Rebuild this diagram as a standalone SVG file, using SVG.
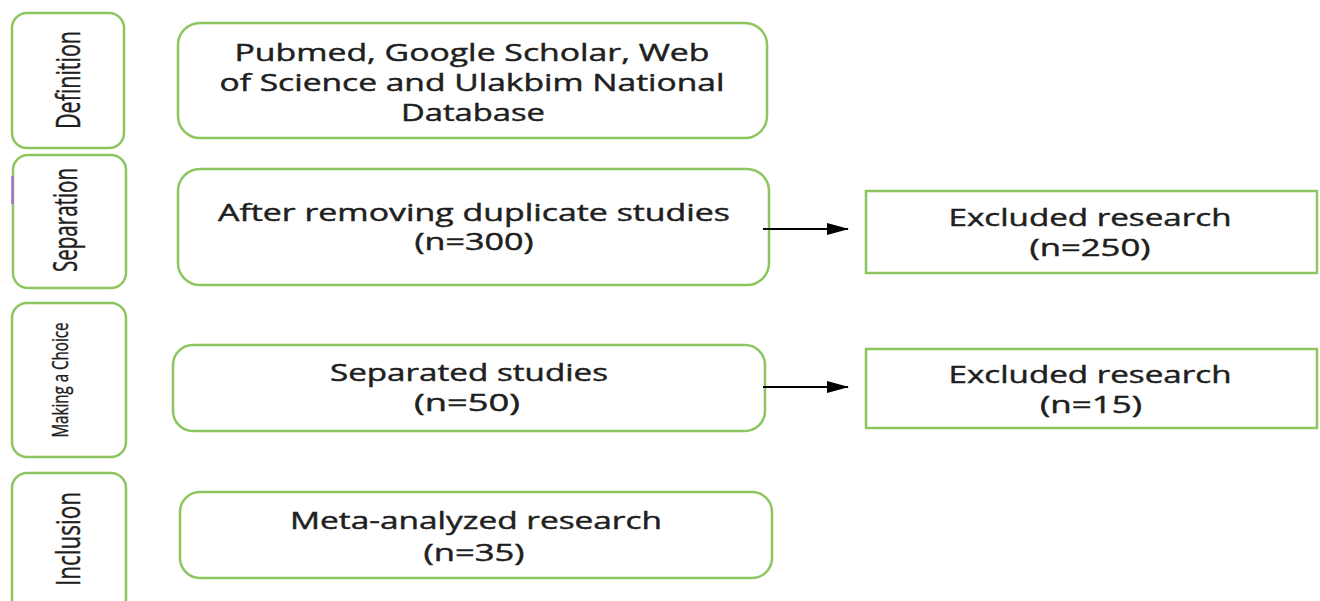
<svg xmlns="http://www.w3.org/2000/svg" width="1320" height="601" viewBox="0 0 1320 601">
<style>
  .box { fill: #ffffff; stroke: #8dc55e; stroke-width: 2.5; }
  .t { font-family: "Open Sans", "Noto Sans", "Liberation Sans", sans-serif; font-size: 23.5px; fill: #1f1f1f; stroke: #1f1f1f; stroke-width: 0.45; text-anchor: middle; }
  .v { font-family: "Open Sans", "Noto Sans", "Liberation Sans", sans-serif; fill: #1f1f1f; stroke: #1f1f1f; stroke-width: 0.3; text-anchor: middle; }
  .conn { stroke: #000000; stroke-width: 2; fill: none; }
</style>
<defs>
  <marker id="arr" viewBox="0 0 22 12" refX="21" refY="6" markerWidth="22" markerHeight="12" markerUnits="userSpaceOnUse" orient="auto">
    <path d="M0,0 L22,6 L0,12 Z" fill="#000000"/>
  </marker>
</defs>
<rect width="1320" height="601" fill="#ffffff"/>

<g id="stage-definition">
  <rect class="box" x="12" y="13" width="112" height="135" rx="15" ry="15"/>
  <text class="v" font-size="22" textLength="98" lengthAdjust="spacingAndGlyphs" transform="translate(80,80) scale(1.45,1) rotate(-90)">Definition</text>
</g>
<g id="stage-separation">
  <rect class="box" x="13" y="155" width="113" height="133" rx="15" ry="15"/>
  <line x1="12.5" y1="176" x2="12.5" y2="204" stroke="#a86bd6" stroke-width="2.5"/>
  <text class="v" font-size="22" textLength="104" lengthAdjust="spacingAndGlyphs" transform="translate(77,220) scale(1.45,1) rotate(-90)">Separation</text>
</g>
<g id="stage-choice">
  <rect class="box" x="12" y="303" width="114" height="154" rx="15" ry="15"/>
  <text class="v" font-size="15.5" textLength="115" lengthAdjust="spacingAndGlyphs" transform="translate(68,380) scale(1.45,1) rotate(-90)">Making a Choice</text>
</g>
<g id="stage-inclusion">
  <rect class="box" x="12" y="473" width="114" height="140" rx="15" ry="15"/>
  <text class="v" font-size="22" textLength="94" lengthAdjust="spacingAndGlyphs" transform="translate(80,539) scale(1.45,1) rotate(-90)">Inclusion</text>
</g>

<g id="databases">
  <rect class="box" x="178" y="23" width="589" height="115" rx="22" ry="22"/>
  <text class="t" x="472" y="61" textLength="475" lengthAdjust="spacingAndGlyphs">Pubmed, Google Scholar, Web</text>
  <text class="t" x="472" y="91" textLength="505" lengthAdjust="spacingAndGlyphs">of Science and Ulakbim National</text>
  <text class="t" x="473" y="121" textLength="144" lengthAdjust="spacingAndGlyphs">Database</text>
</g>
<g id="after-duplicates">
  <rect class="box" x="178" y="169" width="591" height="116" rx="22" ry="22"/>
  <text class="t" x="474" y="221" textLength="512" lengthAdjust="spacingAndGlyphs">After removing duplicate studies</text>
  <text class="t" x="474" y="250" textLength="119" lengthAdjust="spacingAndGlyphs">(n=300)</text>
</g>
<g id="excluded-1">
  <rect class="box" x="866" y="191" width="451" height="82"/>
  <text class="t" x="1090" y="226" textLength="283" lengthAdjust="spacingAndGlyphs">Excluded research</text>
  <text class="t" x="1090" y="256" textLength="121" lengthAdjust="spacingAndGlyphs">(n=250)</text>
</g>
<g id="separated">
  <rect class="box" x="173" y="345" width="592" height="86" rx="20" ry="20"/>
  <text class="t" x="469" y="381" textLength="278" lengthAdjust="spacingAndGlyphs">Separated studies</text>
  <text class="t" x="467" y="411" textLength="106" lengthAdjust="spacingAndGlyphs">(n=50)</text>
</g>
<g id="excluded-2">
  <rect class="box" x="866" y="349" width="451" height="79"/>
  <text class="t" x="1090" y="383" textLength="283" lengthAdjust="spacingAndGlyphs">Excluded research</text>
  <text class="t" x="1091" y="413" textLength="102" lengthAdjust="spacingAndGlyphs">(n=15)</text>
</g>
<g id="meta-analyzed">
  <rect class="box" x="180" y="492" width="592" height="86" rx="20" ry="20"/>
  <text class="t" x="476" y="529" textLength="372" lengthAdjust="spacingAndGlyphs">Meta-analyzed research</text>
  <text class="t" x="474" y="561" textLength="101" lengthAdjust="spacingAndGlyphs">(n=35)</text>
</g>

<g id="connectors">
  <line class="conn" x1="763" y1="229" x2="848" y2="229" marker-end="url(#arr)"/>
  <line class="conn" x1="763" y1="387" x2="848" y2="387" marker-end="url(#arr)"/>
</g>
</svg>
